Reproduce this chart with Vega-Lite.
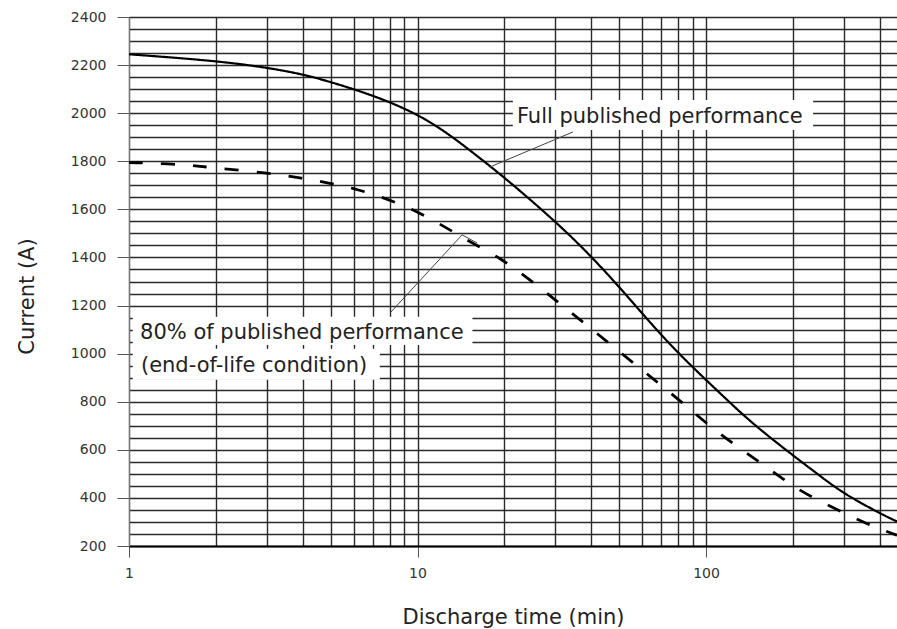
{
  "$schema": "https://vega.github.io/schema/vega-lite/v6.json",
  "width": 768,
  "height": 529,
  "autosize": "none",
  "padding": {"left": 129, "top": 17, "right": 0, "bottom": 83},
  "background": "white",
  "config": {"view": {"stroke": null}, "font": "DejaVu Sans"},
  "datasets": {
    "curves": [
      {"series": "Full published performance", "t": 1, "a": 2245},
      {"series": "Full published performance", "t": 2, "a": 2218},
      {"series": "Full published performance", "t": 3, "a": 2190},
      {"series": "Full published performance", "t": 4, "a": 2162},
      {"series": "Full published performance", "t": 5, "a": 2130},
      {"series": "Full published performance", "t": 7, "a": 2075},
      {"series": "Full published performance", "t": 10, "a": 1998},
      {"series": "Full published performance", "t": 13, "a": 1908},
      {"series": "Full published performance", "t": 15.2, "a": 1845},
      {"series": "Full published performance", "t": 19.8, "a": 1738},
      {"series": "Full published performance", "t": 30.4, "a": 1545},
      {"series": "Full published performance", "t": 39.6, "a": 1410},
      {"series": "Full published performance", "t": 50.3, "a": 1275},
      {"series": "Full published performance", "t": 67.6, "a": 1095},
      {"series": "Full published performance", "t": 86, "a": 965},
      {"series": "Full published performance", "t": 109, "a": 848},
      {"series": "Full published performance", "t": 142.6, "a": 715},
      {"series": "Full published performance", "t": 196, "a": 585},
      {"series": "Full published performance", "t": 248, "a": 492},
      {"series": "Full published performance", "t": 298, "a": 420},
      {"series": "Full published performance", "t": 401, "a": 335},
      {"series": "Full published performance", "t": 459, "a": 302},
      {"series": "80% of published performance", "t": 1, "a": 1795},
      {"series": "80% of published performance", "t": 1.5, "a": 1788},
      {"series": "80% of published performance", "t": 2, "a": 1772},
      {"series": "80% of published performance", "t": 3, "a": 1752},
      {"series": "80% of published performance", "t": 4, "a": 1730},
      {"series": "80% of published performance", "t": 5, "a": 1708},
      {"series": "80% of published performance", "t": 6, "a": 1688},
      {"series": "80% of published performance", "t": 7.5, "a": 1652},
      {"series": "80% of published performance", "t": 9.4, "a": 1606},
      {"series": "80% of published performance", "t": 12, "a": 1539},
      {"series": "80% of published performance", "t": 15.2, "a": 1464},
      {"series": "80% of published performance", "t": 19.4, "a": 1398},
      {"series": "80% of published performance", "t": 24.6, "a": 1306},
      {"series": "80% of published performance", "t": 31.3, "a": 1206},
      {"series": "80% of published performance", "t": 39.7, "a": 1107},
      {"series": "80% of published performance", "t": 51.3, "a": 998},
      {"series": "80% of published performance", "t": 65, "a": 899},
      {"series": "80% of published performance", "t": 83, "a": 795},
      {"series": "80% of published performance", "t": 106, "a": 685},
      {"series": "80% of published performance", "t": 134, "a": 598},
      {"series": "80% of published performance", "t": 171, "a": 508},
      {"series": "80% of published performance", "t": 215, "a": 423},
      {"series": "80% of published performance", "t": 273, "a": 363},
      {"series": "80% of published performance", "t": 347, "a": 300},
      {"series": "80% of published performance", "t": 437, "a": 254},
      {"series": "80% of published performance", "t": 459, "a": 245}
    ],
    "boxes": [
      {"t": 21.4, "t2": 235, "a": 2055, "a2": 1930},
      {"t": 1.03, "t2": 15.5, "a": 1153, "a2": 1036},
      {"t": 1.03, "t2": 7.4, "a": 1020, "a2": 891}
    ],
    "leaders": [
      {"leader": "full", "i": 0, "t": 17.8, "a": 1776},
      {"leader": "full", "i": 1, "t": 34.6, "a": 1922},
      {"leader": "eol", "i": 0, "t": 8.03, "a": 1169},
      {"leader": "eol", "i": 1, "t": 14.27, "a": 1494},
      {"leader": "eol", "i": 2, "t": 16.1, "a": 1460}
    ],
    "notes": [
      {"t": 22.1, "a": 1959, "label": "Full published performance"},
      {"t": 1.092, "a": 1061, "label": "80% of published performance"},
      {"t": 1.1, "a": 924, "label": "(end-of-life condition)"}
    ]
  },
  "encoding": {
    "x": {
      "field": "t", "type": "quantitative",
      "scale": {"type": "log", "domain": [1, 459], "nice": false},
      "axis": {
        "values": [1, 2, 3, 4, 5, 6, 7, 8, 9, 10, 20, 30, 40, 50, 60, 70, 80, 90, 100, 200, 300, 400],
        "labelExpr": "datum.value == 1 || datum.value == 10 || datum.value == 100 ? format(datum.value, 'd') : ''",
        "grid": true, "gridColor": "#2a2a2a", "gridWidth": 1.4,
        "ticks": true, "tickSize": 11, "tickColor": "#555",
        "tickOpacity": {"condition": {"test": "datum.value == 1 || datum.value == 10 || datum.value == 100", "value": 1}, "value": 0},
        "domain": true, "domainColor": "#000", "domainWidth": 2,
        "labelFont": "DejaVu Sans", "labelFontSize": 14, "labelColor": "#333", "labelPadding": 9,
        "labelOverlap": false, "labelFlush": false,
        "title": "Discharge time (min)", "titleFont": "DejaVu Sans", "titleFontSize": 21,
        "titleFontWeight": "normal", "titleColor": "#222", "titleY": 77, "titleBaseline": "alphabetic"
      }
    },
    "y": {
      "field": "a", "type": "quantitative",
      "scale": {"domain": [200, 2400], "nice": false, "zero": false},
      "axis": {
        "values": [200, 250, 300, 350, 400, 450, 500, 550, 600, 650, 700, 750, 800, 850, 900, 950, 1000, 1050, 1100, 1150, 1200, 1250, 1300, 1350, 1400, 1450, 1500, 1550, 1600, 1650, 1700, 1750, 1800, 1850, 1900, 1950, 2000, 2050, 2100, 2150, 2200, 2250, 2300, 2350, 2400],
        "labelExpr": "datum.value % 200 == 0 ? format(datum.value, 'd') : ''",
        "grid": true, "gridColor": "#2a2a2a", "gridWidth": 1.4,
        "ticks": true, "tickSize": 12, "tickColor": "#555",
        "tickOpacity": {"condition": {"test": "datum.value % 200 == 0", "value": 1}, "value": 0},
        "domain": true, "domainColor": "#777", "domainWidth": 1,
        "labelFont": "DejaVu Sans", "labelFontSize": 14, "labelColor": "#333", "labelPadding": 11,
        "labelOverlap": false, "labelFlush": false,
        "title": "Current (A)", "titleFont": "DejaVu Sans", "titleFontSize": 21,
        "titleFontWeight": "normal", "titleColor": "#222", "titleAngle": -90,
        "titleX": -96, "titleY": 279, "titleAlign": "center", "titleBaseline": "alphabetic"
      }
    }
  },
  "layer": [
    {
      "data": {"name": "boxes"},
      "mark": {"type": "rect", "fill": "white"},
      "encoding": {
        "x2": {"field": "t2"},
        "y2": {"field": "a2"}
      }
    },
    {
      "data": {"name": "curves"},
      "mark": {"type": "line", "interpolate": "basis", "color": "#000", "clip": true},
      "encoding": {
        "detail": {"field": "series"},
        "strokeDash": {"field": "series", "type": "nominal", "scale": {"domain": ["Full published performance", "80% of published performance"], "range": [[1, 0], [14, 18]]}, "legend": null},
        "strokeWidth": {"field": "series", "type": "nominal", "scale": {"domain": ["Full published performance", "80% of published performance"], "range": [2.2, 2.8]}, "legend": null}
      }
    },
    {
      "data": {"name": "leaders"},
      "mark": {"type": "line", "color": "#444", "strokeWidth": 1},
      "encoding": {
        "detail": {"field": "leader"},
        "order": {"field": "i"}
      }
    },
    {
      "data": {"name": "notes"},
      "mark": {"type": "text", "align": "left", "baseline": "alphabetic", "font": "DejaVu Sans", "fontSize": 21, "color": "#222"},
      "encoding": {
        "text": {"field": "label"}
      }
    }
  ]
}
